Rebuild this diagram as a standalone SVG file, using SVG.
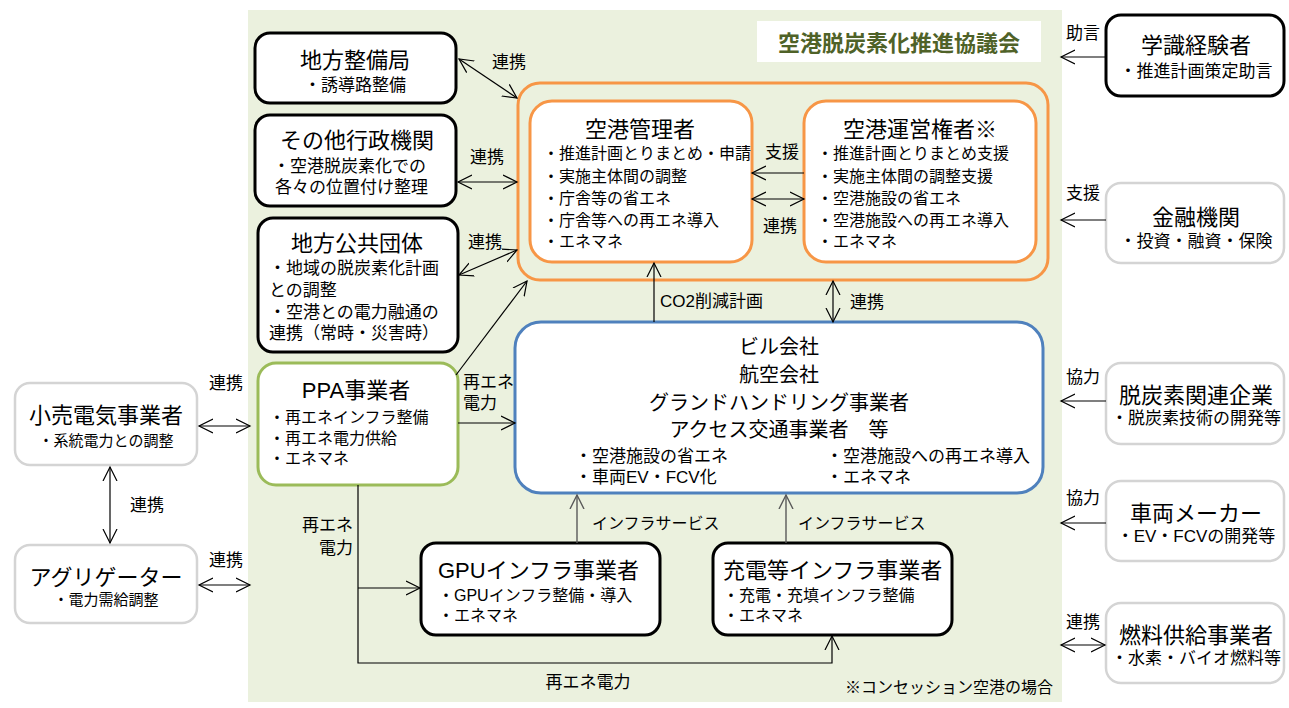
<svg xmlns="http://www.w3.org/2000/svg" width="1289" height="708" viewBox="0 0 1289 708">
<defs>
<style>
text{font-family:"Liberation Sans","Noto Sans CJK JP","Noto Sans CJK SC",sans-serif;fill:#000}
.t{font-size:22px}
.tm{font-size:20px}
.s{font-size:16px}
.s15{font-size:15px}
.s17{font-size:17px}
.lb{font-size:17px}
.c{text-anchor:middle}
.e{text-anchor:end}
.l{text-anchor:start}
.bk{fill:#fff;stroke:#000;stroke-width:3}
.gr{fill:#fff;stroke:#d4d4d4;stroke-width:2.5}
.org{fill:#fff;stroke:#f79646;stroke-width:3}
.gn{fill:#fff;stroke:#9bbb59;stroke-width:3}
.bl{fill:#fff;stroke:#4f81bd;stroke-width:3}
.cn{fill:none;stroke:#000;stroke-width:1.2}
.cg{fill:none;stroke:#595959;stroke-width:1.4}
</style>
<marker id="ah" viewBox="0 0 16 16" refX="14" refY="8" markerWidth="16" markerHeight="16" markerUnits="userSpaceOnUse" orient="auto-start-reverse">
<path d="M0,1 L14,8 L0,15" fill="none" stroke="#000" stroke-width="1.2"/>
</marker>
<marker id="ahg" viewBox="0 0 16 16" refX="14" refY="8" markerWidth="16" markerHeight="16" markerUnits="userSpaceOnUse" orient="auto-start-reverse">
<path d="M0,1 L14,8 L0,15" fill="none" stroke="#595959" stroke-width="1.4"/>
</marker>
</defs>

<rect x="248" y="10" width="814" height="692" fill="#ebf1de"/>

<g id="title">
<rect x="757" y="21" width="284" height="41" fill="#fff"/>
<text x="899" y="51" class="c" style="font-size:22px;font-weight:bold;fill:#4f6228">空港脱炭素化推進協議会</text>
</g>

<g id="council">
<rect x="518" y="83" width="530" height="197" rx="22" fill="none" stroke="#f79646" stroke-width="3"/>
</g>

<g id="kanrisha">
<rect x="530" y="101" width="222" height="161" rx="22" class="org"/>
<text><tspan x="640" y="137" class="t c">空港管理者</tspan><tspan x="543" y="159" class="s l">・推進計画とりまとめ・申請</tspan><tspan x="543" y="182" class="s l">・実施主体間の調整</tspan><tspan x="543" y="204" class="s l">・庁舎等の省エネ</tspan><tspan x="543" y="226" class="s l">・庁舎等への再エネ導入</tspan><tspan x="543" y="247" class="s l">・エネマネ</tspan></text>
</g>

<g id="uneikensha">
<rect x="804" y="101" width="232" height="161" rx="22" class="org"/>
<text><tspan x="920" y="137" class="t c">空港運営権者※</tspan><tspan x="817" y="159" class="s l">・推進計画とりまとめ支援</tspan><tspan x="817" y="182" class="s l">・実施主体間の調整支援</tspan><tspan x="817" y="204" class="s l">・空港施設の省エネ</tspan><tspan x="817" y="226" class="s l">・空港施設への再エネ導入</tspan><tspan x="817" y="247" class="s l">・エネマネ</tspan></text>
</g>

<g id="chihouseibi">
<rect x="255" y="33" width="201" height="70" rx="15" class="bk"/>
<text><tspan x="355" y="68" class="t c">地方整備局</tspan><tspan x="355" y="91" class="s17 c">・誘導路整備</tspan></text>
</g>

<g id="sonota">
<rect x="255" y="115" width="201" height="91" rx="15" class="bk"/>
<text><tspan x="357" y="148" class="t c">その他行政機関</tspan><tspan x="273" y="172" class="s17 l">・空港脱炭素化での</tspan><tspan x="275" y="193" class="s17 l">各々の位置付け整理</tspan></text>
</g>

<g id="jichitai">
<rect x="258" y="218" width="200" height="134" rx="15" class="bk"/>
<text><tspan x="357" y="251" class="t c">地方公共団体</tspan><tspan x="269" y="274" class="s17 l">・地域の脱炭素化計画</tspan><tspan x="269" y="296" class="s17 l">との調整</tspan><tspan x="269" y="318" class="s17 l">・空港との電力融通の</tspan><tspan x="269" y="339" class="s17 l">連携（常時・災害時）</tspan></text>
</g>

<g id="ppa">
<rect x="258" y="363" width="200" height="122" rx="18" class="gn"/>
<text><tspan x="356" y="398" class="t c">PPA事業者</tspan><tspan x="269" y="423" class="s l">・再エネインフラ整備</tspan><tspan x="269" y="444" class="s l">・再エネ電力供給</tspan><tspan x="269" y="464" class="s l">・エネマネ</tspan></text>
</g>

<g id="biru">
<rect x="515" y="322" width="528" height="171" rx="26" class="bl"/>
<text><tspan x="779" y="354" class="tm c">ビル会社</tspan><tspan x="779" y="382" class="tm c">航空会社</tspan><tspan x="779" y="410" class="tm c">グランドハンドリング事業者</tspan><tspan x="779" y="437" class="tm c">アクセス交通事業者　等</tspan><tspan x="575" y="462" class="s17 l">・空港施設の省エネ</tspan><tspan x="575" y="483" class="s17 l">・車両EV・FCV化</tspan><tspan x="826" y="462" class="s17 l">・空港施設への再エネ導入</tspan><tspan x="826" y="483" class="s17 l">・エネマネ</tspan></text>
</g>

<g id="gpu">
<rect x="421" y="543" width="239" height="92" rx="15" class="bk"/>
<text><tspan x="438" y="578" class="t">GPUインフラ事業者</tspan><tspan x="438" y="601" class="s">・GPUインフラ整備・導入</tspan><tspan x="438" y="621" class="s">・エネマネ</tspan></text>
</g>

<g id="juden">
<rect x="713" y="543" width="239" height="92" rx="15" class="bk"/>
<text><tspan x="723" y="578" class="t">充電等インフラ事業者</tspan><tspan x="723" y="601" class="s">・充電・充填インフラ整備</tspan><tspan x="723" y="621" class="s">・エネマネ</tspan></text>
</g>

<g id="kouri">
<rect x="15" y="383" width="182" height="82" rx="15" class="gr"/>
<text><tspan x="106" y="423" class="t c">小売電気事業者</tspan><tspan x="106" y="446" class="s15 c">・系統電力との調整</tspan></text>
</g>

<g id="aggregator">
<rect x="15" y="545" width="182" height="78" rx="15" class="gr"/>
<text><tspan x="106" y="585" class="t c">アグリゲーター</tspan><tspan x="106" y="605" class="s15 c">・電力需給調整</tspan></text>
</g>

<g id="gakushiki">
<rect x="1106" y="15" width="178" height="81" rx="15" class="bk"/>
<text><tspan x="1196" y="53" class="t c">学識経験者</tspan><tspan x="1196" y="77" class="s17 c">・推進計画策定助言</tspan></text>
</g>

<g id="kinyu">
<rect x="1106" y="183" width="178" height="80" rx="15" class="gr"/>
<text><tspan x="1196" y="225" class="t c">金融機関</tspan><tspan x="1196" y="247" class="s17 c">・投資・融資・保険</tspan></text>
</g>

<g id="datsutanso">
<rect x="1106" y="363" width="178" height="81" rx="15" class="gr"/>
<text><tspan x="1196" y="403" class="t c">脱炭素関連企業</tspan><tspan x="1196" y="424" class="s17 c">・脱炭素技術の開発等</tspan></text>
</g>

<g id="sharyo">
<rect x="1106" y="481" width="178" height="80" rx="15" class="gr"/>
<text><tspan x="1196" y="521" class="t c">車両メーカー</tspan><tspan x="1196" y="542" class="s17 c">・EV・FCVの開発等</tspan></text>
</g>

<g id="nenryo">
<rect x="1106" y="603" width="178" height="80" rx="15" class="gr"/>
<text><tspan x="1196" y="643" class="t c">燃料供給事業者</tspan><tspan x="1196" y="664" class="s17 c">・水素・バイオ燃料等</tspan></text>
</g>

<g id="connectors">
<line x1="459" y1="59" x2="517" y2="98" class="cn" marker-start="url(#ah)" marker-end="url(#ah)"/>
<line x1="458" y1="182" x2="517" y2="182" class="cn" marker-start="url(#ah)" marker-end="url(#ah)"/>
<line x1="459" y1="275" x2="517" y2="250" class="cn" marker-start="url(#ah)" marker-end="url(#ah)"/>
<line x1="456" y1="375" x2="527" y2="281" class="cn" marker-end="url(#ah)"/>
<line x1="458" y1="423" x2="515" y2="423" class="cn" marker-end="url(#ah)"/>
<line x1="804" y1="173" x2="752" y2="173" class="cn" marker-end="url(#ah)"/>
<line x1="752" y1="199" x2="804" y2="199" class="cn" marker-start="url(#ah)" marker-end="url(#ah)"/>
<line x1="654" y1="322" x2="654" y2="263" class="cn" marker-end="url(#ah)"/>
<line x1="833" y1="281" x2="833" y2="322" class="cn" marker-start="url(#ah)" marker-end="url(#ah)"/>
<line x1="199" y1="426" x2="250" y2="426" class="cn" marker-start="url(#ah)" marker-end="url(#ah)"/>
<line x1="110" y1="467" x2="110" y2="543" class="cn" marker-start="url(#ah)" marker-end="url(#ah)"/>
<line x1="199" y1="585" x2="250" y2="585" class="cn" marker-start="url(#ah)" marker-end="url(#ah)"/>
<path d="M358,485 V663 H832 V636" class="cn" marker-end="url(#ah)"/>
<path d="M358,588 H420" class="cn" marker-end="url(#ah)"/>
<line x1="577" y1="543" x2="577" y2="495" class="cg" marker-end="url(#ahg)"/>
<line x1="786" y1="543" x2="786" y2="495" class="cg" marker-end="url(#ahg)"/>
<line x1="1105" y1="57" x2="1061" y2="57" class="cn" marker-end="url(#ah)"/>
<line x1="1106" y1="220" x2="1061" y2="220" class="cn" marker-end="url(#ah)"/>
<line x1="1106" y1="401" x2="1061" y2="401" class="cn" marker-end="url(#ah)"/>
<line x1="1106" y1="523" x2="1061" y2="523" class="cn" marker-end="url(#ah)"/>
<line x1="1061" y1="645" x2="1105" y2="645" class="cn" marker-start="url(#ah)" marker-end="url(#ah)"/>
</g>

<g id="labels">
<text x="492" y="68" class="lb">連携</text>
<text x="487" y="163" class="lb c">連携</text>
<text x="485" y="248" class="lb c">連携</text>
<text class="lb"><tspan x="463" y="388">再エネ</tspan><tspan x="463" y="409">電力</tspan></text>
<text x="782" y="158" class="lb c">支援</text>
<text x="780" y="232" class="lb c">連携</text>
<text x="660" y="307" class="lb">CO2削減計画</text>
<text x="850" y="308" class="lb">連携</text>
<text x="226" y="389" class="lb c">連携</text>
<text x="147" y="511" class="lb c">連携</text>
<text x="226" y="566" class="lb c">連携</text>
<text class="lb e"><tspan x="353" y="531">再エネ</tspan><tspan x="353" y="554">電力</tspan></text>
<text x="592" y="529" class="s">インフラサービス</text>
<text x="798" y="529" class="s">インフラサービス</text>
<text x="588" y="688" class="lb c">再エネ電力</text>
<text x="1053" y="693" class="s e">※コンセッション空港の場合</text>
<text x="1083" y="39" class="lb c">助言</text>
<text x="1083" y="199" class="lb c">支援</text>
<text x="1083" y="383" class="lb c">協力</text>
<text x="1083" y="504" class="lb c">協力</text>
<text x="1083" y="628" class="lb c">連携</text>
</g>
</svg>
